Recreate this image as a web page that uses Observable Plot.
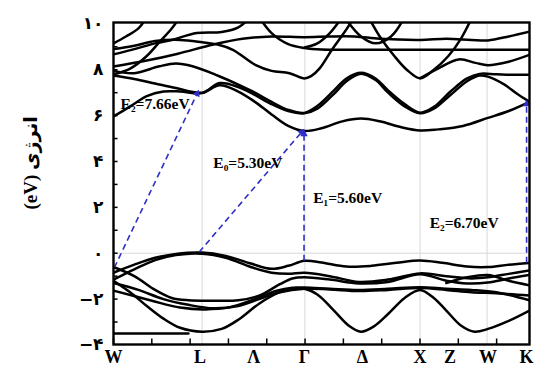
<!DOCTYPE html>
<html><head><meta charset="utf-8">
<script src="https://cdn.jsdelivr.net/npm/d3@7"></script>
<script src="https://cdn.jsdelivr.net/npm/@observablehq/plot@0.6"></script>
<style>html,body{margin:0;padding:0;background:#fff}</style>
</head><body><div id="chart"></div>
<script>
// k-path labels (percent of path length) and energy ticks
const kLabels = ["W","L","Λ","Γ","Δ","X","Z","W","K"];
const kLabelPos = [0, 20.8, 33.7, 45.9, 59.8, 73.7, 80.9, 90.0, 99.3];
const kGridPos = [21.3, 46.0, 73.7, 89.8];
const xMinorTicks = [0, 9.21, 18.42, 27.63, 36.84, 46.05, 55.26, 64.47, 73.68, 82.89, 92.1];
const yTickValues = [-4, -2, 0, 2, 4, 6, 8, 10];
const yTickLabels = ["−۴", "−۲", "۰", "۲", "۴", "۶", "۸", "۱۰"];
const yMinorTicks = [-3, -2, -1, 0, 1, 2, 3, 4, 5, 6, 7, 8, 9];
const yTitle = "(eV) انرژی";

// conduction bands [k, E(eV)]
const c1 = [[0,5.96],[4,6.4],[8,6.85],[12,7.05],[16,7.05],[21.3,6.98],[25.5,7.32],[30,7.05],[34,6.6],[38,6.05],[42,5.55],[45.9,5.33],[50,5.45],[55,5.75],[59.5,5.87],[64,5.75],[69,5.5],[73.7,5.35],[78,5.4],[84,5.55],[90,5.9],[95,6.2],[100,6.6]];
const c2 = [[0,7.75],[5,7.6],[10,7.4],[15,7.2],[21.3,7.0],[25.5,7.42],[30,7.25],[34,6.9],[38,6.5],[42,6.2],[45.9,6.1],[49,6.3],[53,6.95],[56,7.5],[59.5,7.83],[63,7.55],[66,7.0],[70,6.4],[73.7,6.1],[77,6.3],[81,6.9],[85,7.5],[88,7.75],[90,7.7],[94,7.35],[97,6.95],[100,6.6]];
const c3 = [[0,7.95],[5,7.85],[11,8.15],[15,8.27],[19,8.15],[25,7.75],[30,7.35],[34,7.0],[38,6.6],[42,6.25],[45.9,6.12],[49,6.42],[53,7.1],[56,7.62],[59.5,7.87],[63,7.62],[66,7.1],[70,6.5],[73.7,6.13],[77,6.38],[81,7.05],[85,7.62],[88,7.82],[92,7.8],[96,7.78],[100,7.78]];
const c4 = [[0,8.9],[5,9.05],[10,9.25],[16,9.3],[21.3,9.2],[25,9.1],[28.7,8.87],[34.2,8.2],[38,7.95],[42.3,7.85],[45.9,7.62],[47.5,7.72],[49.5,8.05],[52.5,8.87],[56.5,9.9],[58,10.4]];
const u1 = [[0,9.15],[3,9.45],[6,9.8],[8,10.3]];
const u2 = [[0,7.8],[4,8.05],[8,8.6],[11,9.2],[14,9.8],[16,10.3]];
const u3 = [[0,8.67],[5,8.9],[10,9.15],[14,9.3],[20,9.6],[26,9.65],[30,9.85],[33,10.3]];
const u5 = [[0,8.14],[8,8.4],[15.5,8.7],[24,9.1],[31,9.35],[38,9.45],[45.9,9.42],[52,9.45],[58,9.45],[64,9.35],[73.7,9.3],[80,9.35],[86,9.3],[90,9.28],[95,9.45],[100,9.66]];
const f1 = [[35,10.3],[38,9.6],[42,9.12],[45.9,8.95],[50,8.88],[60,8.87],[80,8.87],[100,8.87]];
const u4 = [[45.9,8.97],[49,9.15],[52,9.6],[55,10.3]];
const u6 = [[55.5,10.3],[59.5,9.45],[63,9.15],[66.7,9.45],[70,10.3]];
const g1 = [[61,10.4],[64,9.45],[67.5,8.6],[70.5,8.0],[73.7,7.63],[77,8.0],[80.5,8.6],[83.5,9.35],[86.5,10.4]];
const g2 = [[73.7,7.63],[78,8.05],[83,8.45],[87,8.3],[90,8.2],[95,8.35],[100,8.65]];
// valence bands
const v1 = [[0,-0.85],[5,-0.5],[10,-0.2],[15,-0.03],[21.3,0.03],[27,-0.12],[33,-0.45],[38,-0.68],[42,-0.55],[45.9,-0.33],[50,-0.4],[56,-0.58],[62,-0.55],[68,-0.42],[73.7,-0.32],[79,-0.42],[85,-0.58],[90,-0.6],[95,-0.5],[100,-0.42]];
const v2 = [[0,-1.15],[5,-0.7],[10,-0.3],[15,-0.08],[21.3,-0.02],[27,-0.2],[33,-0.6],[38,-0.85],[42,-0.9],[45.9,-0.85],[52,-1.0],[59,-1.25],[66,-1.15],[73.7,-0.88],[80,-1.0],[86,-1.1],[90,-1.05],[95,-0.9],[100,-0.75]];
const v3 = [[0,-0.6],[5,-1.0],[10,-1.6],[14,-1.95],[18,-2.05],[24,-2.07],[30,-2.05],[35,-1.85],[40,-1.35],[43,-1.1],[45.9,-1.05],[52,-1.15],[59,-1.32],[66,-1.25],[73.7,-0.92],[80,-1.2],[85,-1.32],[90,-1.28],[95,-1.1],[100,-0.95]];
const v4 = [[0,-1.3],[6,-1.6],[12,-2.0],[18,-2.25],[24,-2.4],[30,-2.3],[35,-2.0],[40,-1.7],[45.9,-1.55],[52,-1.58],[59,-1.65],[66,-1.6],[73.7,-1.52],[80,-1.6],[86,-1.7],[92,-1.75],[100,-1.85]];
const v5 = [[0,-1.2],[4,-1.7],[8,-2.3],[12,-2.85],[16,-3.25],[21.3,-3.42],[26,-3.3],[30,-2.9],[35,-2.2],[40,-1.7],[43,-1.57],[45.9,-1.55],[49,-1.8],[53,-2.5],[56.5,-3.15],[59.5,-3.42],[62.5,-3.2],[66,-2.65],[70,-1.95],[73.7,-1.6],[77,-1.95],[80,-2.5],[83.5,-3.15],[86.8,-3.42],[90,-3.3],[95,-2.95],[100,-2.5]];
const v6 = [[0,-1.63],[9,-2.06],[16,-2.37],[22,-2.45],[28,-2.35],[34,-2.0],[39,-1.65],[43,-1.5],[45.9,-1.5],[52,-1.55],[59,-1.6],[66,-1.55],[73.7,-1.48],[80,-1.55],[86,-1.6],[92,-1.7],[100,-2.05]];
const v7 = [[80,-1.3],[85,-1.05],[90,-0.95],[95,-1.2],[100,-1.4]];
const vflat = [[0,-3.5],[18,-3.5]];

// transitions
const arrowStart = [[0.2,-0.63],[20.6,0.05],[45.8,-0.33],[99.3,-0.42]];
const arrowEnd = [[20.1,6.96],[45.2,5.28],[45.8,5.2],[99.3,6.5]];
const annText = ["E₂=7.66eV","E₀=5.30eV","E₁=5.60eV","E₂=6.70eV"];
const annPos = [[1.7,6.5],[24.0,3.95],[48.0,2.42],[76.0,1.33]];

const bandList = {c1,c2,c3,c4,u1,u2,u3,u5,f1,u4,u6,g1,g2,v1,v2,v3,v4,v5,v6,v7,vflat};
const rows = Object.entries(bandList).flatMap(([b, pts]) => pts.map(([k, e]) => ({band: b, k, e})));

const W = 536, H = 372, mT = 22, mR = 7, mB = 28, mL = 113;
const xDomain = [0, 100], yDomain = [-3.98, 10.06];
const sx = d3.scaleLinear(xDomain, [mL, W - mR]);
const sy = d3.scaleLinear(yDomain, [H - mB, mT]);
const idx = d3.range(arrowStart.length);
const angle = idx.map(i => {
  const dx = sx(arrowEnd[i][0]) - sx(arrowStart[i][0]);
  const dy = sy(arrowEnd[i][1]) - sy(arrowStart[i][1]);
  return Math.atan2(dx, -dy) * 180 / Math.PI;
});
const blue = "#2f2fc8";
const serif = "Liberation Serif, Times New Roman, serif";

const chart = Plot.plot({
  width: W, height: H,
  marginTop: mT, marginRight: mR, marginBottom: mB, marginLeft: mL,
  x: {domain: xDomain, axis: null},
  y: {domain: yDomain, axis: null},
  style: {background: "white"},
  marks: [
    Plot.ruleX(kGridPos, {x: d => d, stroke: "#d8d8d8", strokeWidth: 1}),
    Plot.ruleY([0], {y: d => d, stroke: "#d8d8d8", strokeWidth: 1}),
    Plot.line(rows, {x: "k", y: "e", z: "band", curve: "catmull-rom", stroke: "black", strokeWidth: 2.5, clip: true}),
    Plot.link(idx, {x1: i => arrowStart[i][0], y1: i => arrowStart[i][1], x2: i => arrowEnd[i][0], y2: i => arrowEnd[i][1], stroke: blue, strokeWidth: 1.6, strokeDasharray: "6,4"}),
    Plot.dot(idx, {x: i => arrowEnd[i][0], y: i => arrowEnd[i][1], symbol: "triangle2", r: 3.6, fill: blue, rotate: i => angle[i]}),
    Plot.text(annText, {x: (d, i) => annPos[i][0], y: (d, i) => annPos[i][1], text: d => d, textAnchor: "start", fontSize: 15.5, fontWeight: "bold", fontFamily: serif, fill: "black"}),
    Plot.ruleX(xMinorTicks, {x: d => d, y1: yDomain[0], y2: yDomain[0] + 0.24, stroke: "black", strokeWidth: 1.5}),
    Plot.ruleY(yMinorTicks, {y: d => d, x1: xDomain[0], x2: xDomain[0] + 1.1, stroke: "black", strokeWidth: 1.5}),
    Plot.frame({stroke: "black", strokeWidth: 2.4}),
    Plot.text(kLabels, {x: (d, i) => kLabelPos[i], text: d => d, frameAnchor: "bottom", dy: 18, fontSize: 18, fontWeight: "bold", fontFamily: serif}),
    Plot.text(yTickLabels, {y: (d, i) => yTickValues[i], text: d => d, frameAnchor: "left", textAnchor: "end", dx: -10, fontSize: 17, fontWeight: "bold", fontFamily: "DejaVu Sans"}),
    Plot.text([yTitle], {text: d => d, frameAnchor: "left", dx: -83, dy: 26, rotate: -90, fontSize: 19, fontWeight: "bold", fontFamily: serif + ", DejaVu Sans"})
  ]
});
document.getElementById("chart").appendChild(chart);
</script>
</body></html>
